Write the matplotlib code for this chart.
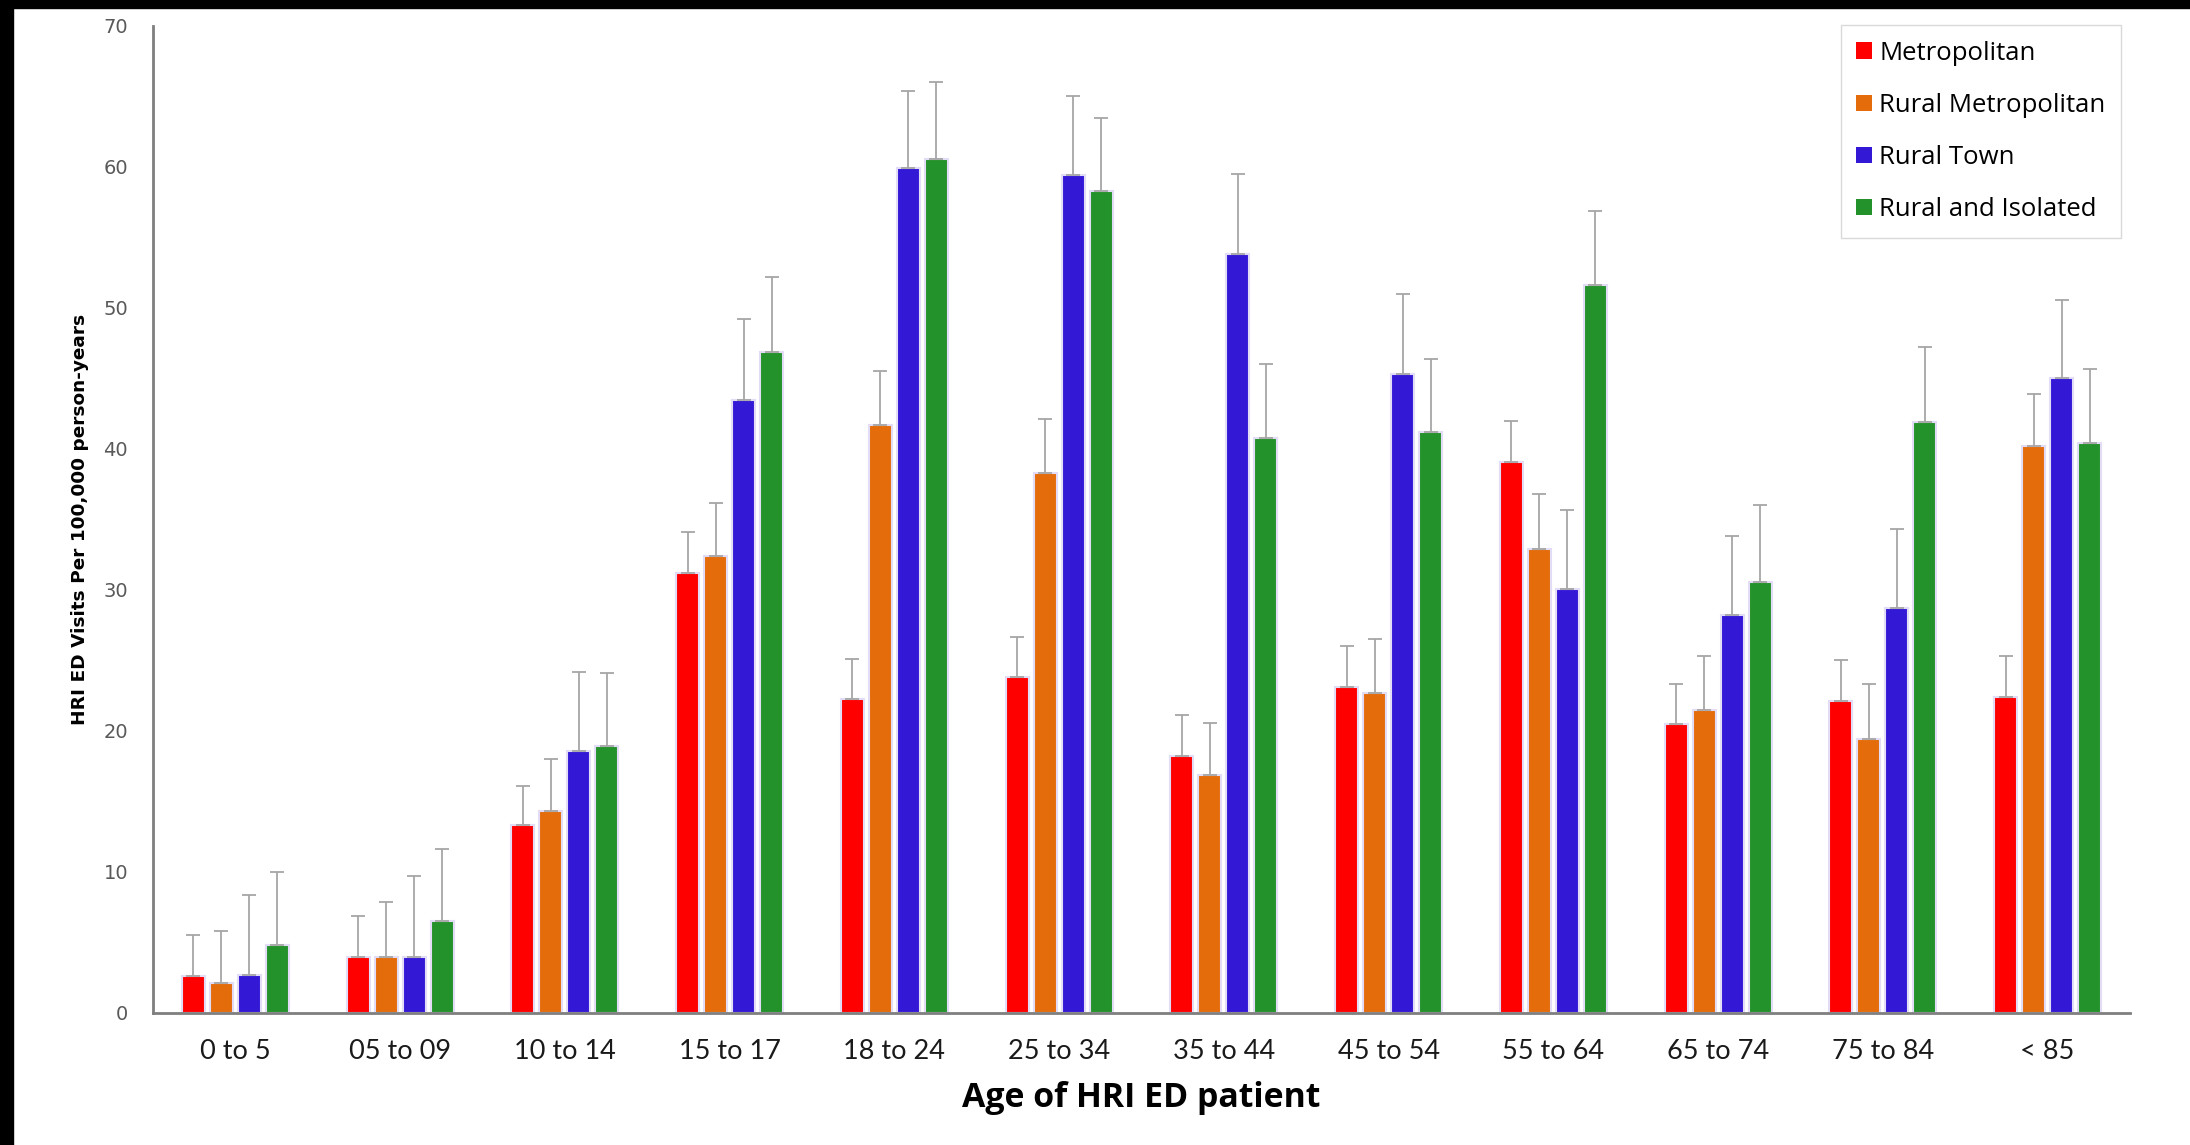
import numpy as np
import matplotlib
matplotlib.use('Agg')
import matplotlib.pyplot as plt
from matplotlib.patches import Rectangle

# age groups on the x axis
categories = ['0 to 5', '05 to 09', '10 to 14', '15 to 17', '18 to 24', '25 to 34',
              '35 to 44', '45 to 54', '55 to 64', '65 to 74', '75 to 84', '< 85']

series_names = ['Metropolitan', 'Rural Metropolitan', 'Rural Town', 'Rural and Isolated']

# HRI ED visits per 100,000 person-years
metro = [2.6, 4.0, 13.3, 31.2, 22.3, 23.8, 18.2, 23.1, 39.1, 20.5, 22.1, 22.4]
rural_metro = [2.1, 4.0, 14.3, 32.4, 41.7, 38.3, 16.9, 22.7, 32.9, 21.5, 19.4, 40.2]
rural_town = [2.7, 4.0, 18.6, 43.5, 59.9, 59.4, 53.8, 45.3, 30.1, 28.2, 28.7, 45.0]
isolated = [4.8, 6.5, 18.9, 46.9, 60.6, 58.3, 40.8, 41.2, 51.6, 30.6, 41.9, 40.4]

# upper error bar lengths
metro_err = [2.9, 2.9, 2.8, 2.9, 2.8, 2.9, 2.9, 2.9, 2.9, 2.8, 2.9, 2.9]
rural_metro_err = [3.7, 3.9, 3.7, 3.8, 3.8, 3.8, 3.7, 3.8, 3.9, 3.8, 3.9, 3.7]
rural_town_err = [5.7, 5.7, 5.6, 5.7, 5.5, 5.6, 5.7, 5.7, 5.6, 5.6, 5.6, 5.6]
isolated_err = [5.2, 5.1, 5.2, 5.3, 5.4, 5.2, 5.2, 5.2, 5.3, 5.4, 5.3, 5.3]

colors = ['#ff0000', '#e46c0a', '#3318d6', '#23922a']


def main():
    fig = plt.figure(figsize=(21.9, 11.45), dpi=100)
    ax = fig.add_axes([0.0699, 0.1153, 0.9027, 0.862])

    x = np.arange(len(categories))
    pitch = 0.17
    width = 0.14
    values = [metro, rural_metro, rural_town, isolated]
    errs = [metro_err, rural_metro_err, rural_town_err, isolated_err]

    for i in range(4):
        pos = x + (i - 1.5) * pitch
        ax.bar(pos, values[i], width, color=colors[i], label=series_names[i],
               edgecolor='#e2dcf6', linewidth=1.5, zorder=2)
        ax.errorbar(pos, values[i], yerr=[np.zeros(len(categories)), errs[i]],
                    fmt='none', ecolor='#a6a6a6', elinewidth=1.3, capsize=5,
                    capthick=1.3, zorder=3)

    ax.set_xlim(-0.5, len(categories) - 0.5)
    ax.set_ylim(0, 70)
    ax.set_yticks(range(0, 71, 10))
    ax.set_xticks(x)
    ax.set_xticklabels(categories, fontsize=19.5, family=['Lato', 'DejaVu Sans'], color='#1a1a1a')
    ax.tick_params(axis='x', length=0, pad=19)
    ax.tick_params(axis='y', length=0, pad=18, labelsize=14, labelcolor='#595959')

    for side in ['top', 'right']:
        ax.spines[side].set_visible(False)
    for side in ['left', 'bottom']:
        ax.spines[side].set_color('#7f7f7f')
        ax.spines[side].set_linewidth(2)

    ax.set_xlabel('Age of HRI ED patient', fontsize=24.4, fontweight='bold',
                  family=['Open Sans', 'DejaVu Sans'], labelpad=12)
    fig.text(0.0365, 0.546, 'HRI ED Visits Per 100,000 person-years', rotation=90,
             ha='center', va='center', fontsize=13.3, fontweight='bold')

    leg = ax.legend(loc='upper right', bbox_to_anchor=(0.9685, 0.978),
                    bbox_transform=fig.transFigure, frameon=True,
                    fancybox=False, edgecolor='#d0d0d0', handlelength=0.6,
                    handleheight=0.6, handletextpad=0.3, labelspacing=1.06,
                    borderpad=0.6, borderaxespad=0,
                    prop={'family': ['Open Sans', 'DejaVu Sans'], 'size': 18.5})
    leg.get_frame().set_linewidth(1)
    for h in leg.legend_handles:
        h.set_edgecolor('none')

    # black scan border at the top and left of the original image
    fig.patches.append(Rectangle((0, 1 - 8 / 1145), 1, 8 / 1145, transform=fig.transFigure,
                                 color='black', zorder=10))
    fig.patches.append(Rectangle((0, 0), 13 / 2190, 1, transform=fig.transFigure,
                                 color='black', zorder=10))

    fig.savefig('out.png', dpi=100, facecolor='white')


if __name__ == '__main__':
    main()
